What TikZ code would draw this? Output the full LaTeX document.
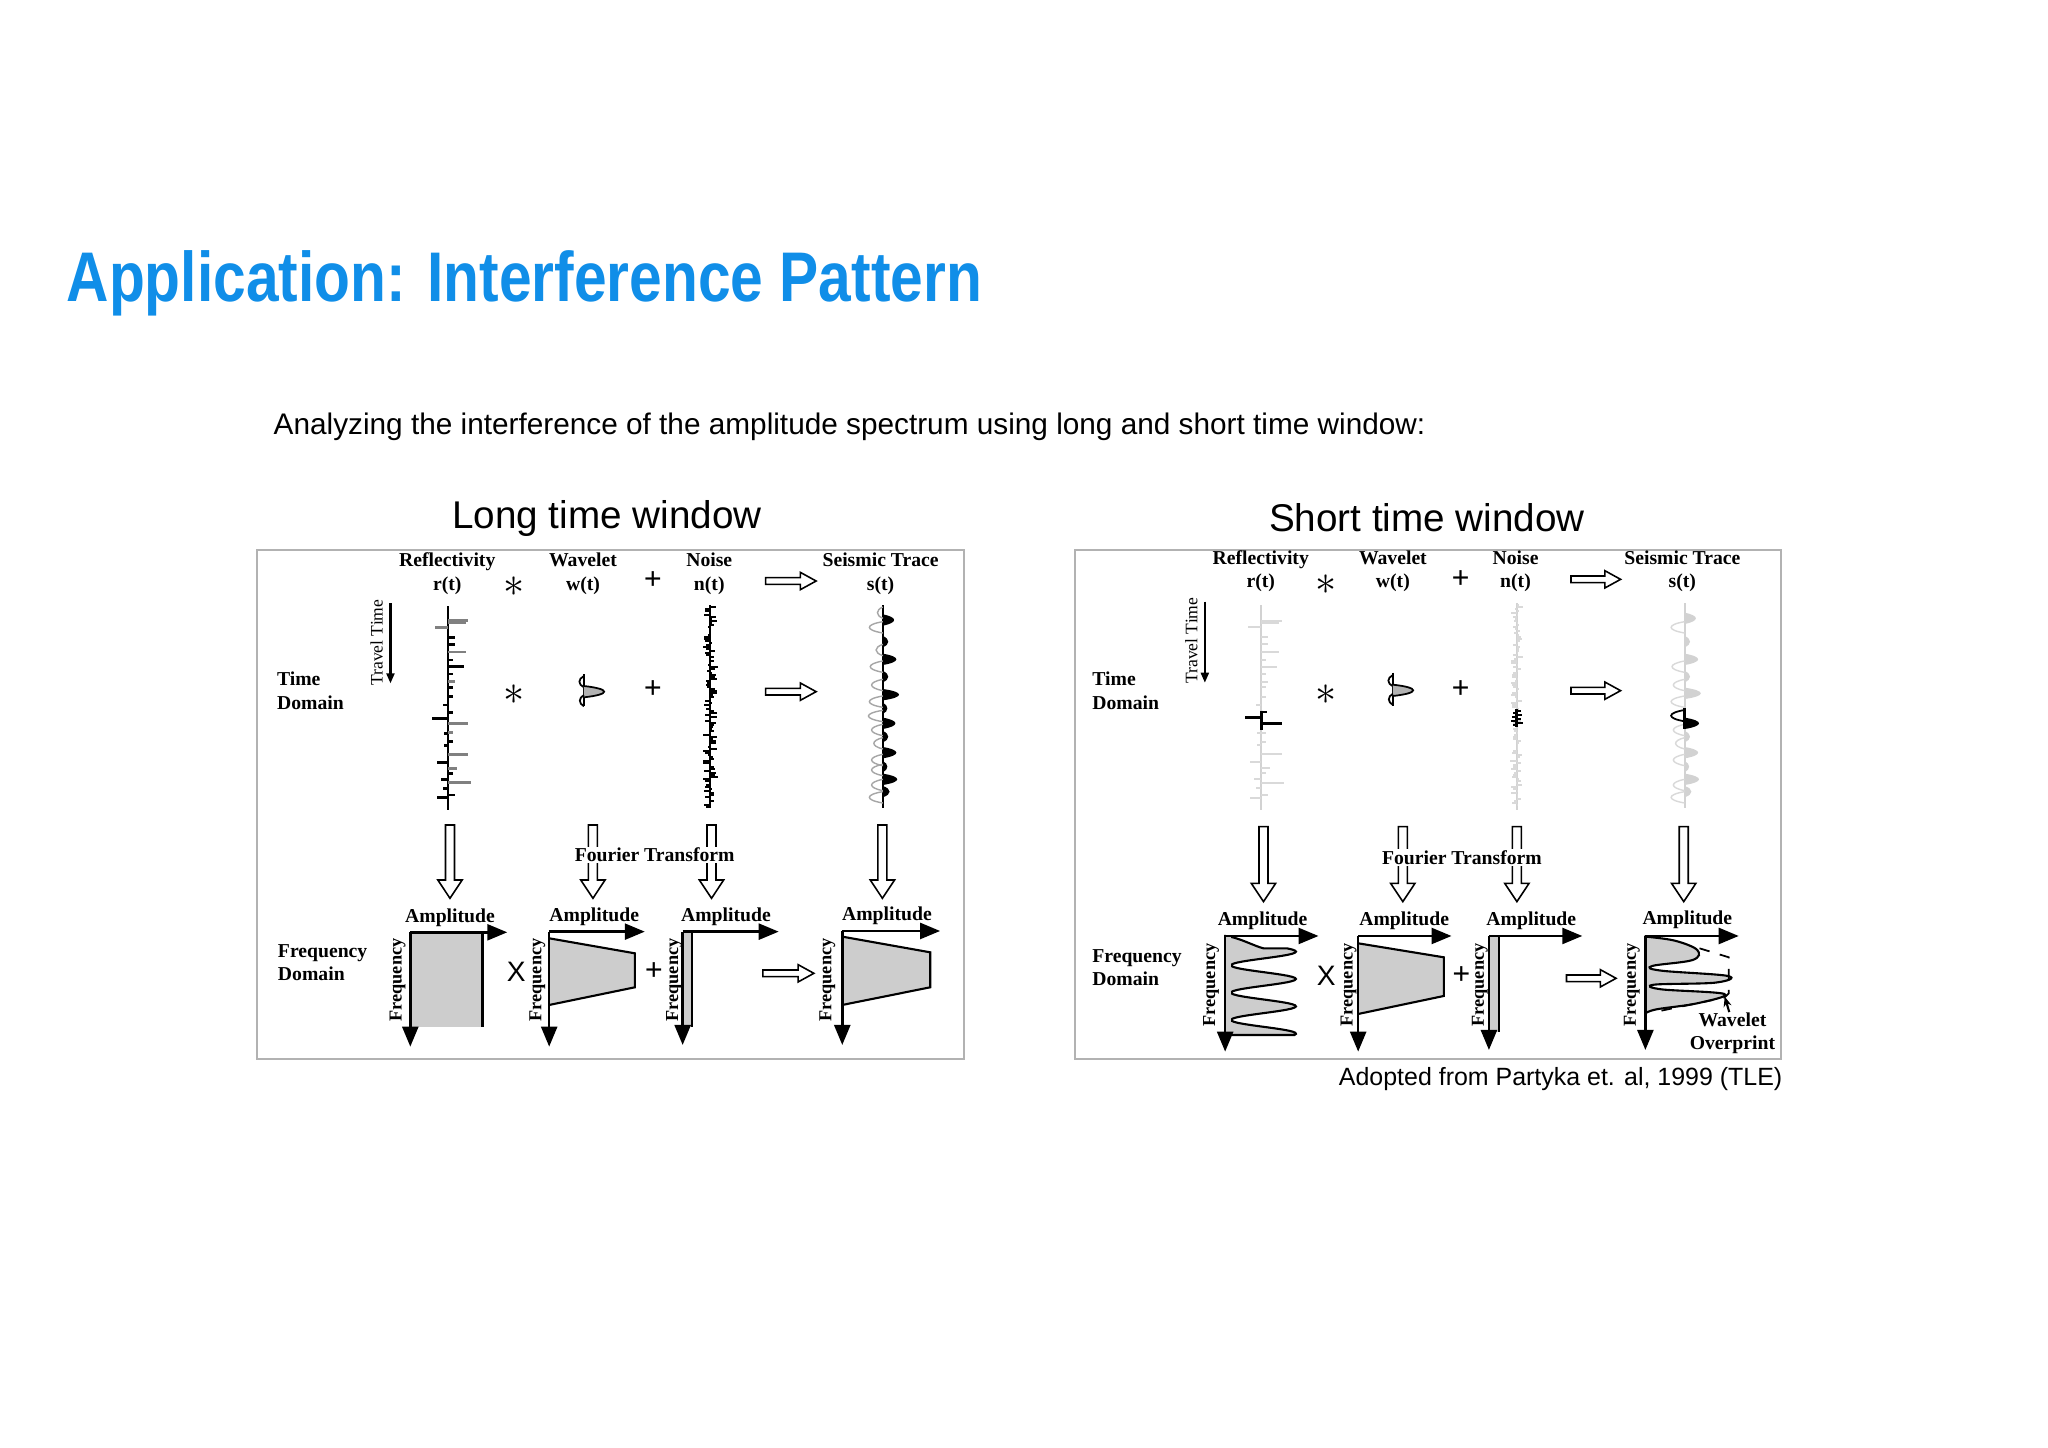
\documentclass[tikz,border=0pt]{standalone}
\usepackage{fontspec}
\setmainfont{Liberation Serif}
\newfontfamily\sansf{Liberation Sans}
\usetikzlibrary{arrows.meta}
\definecolor{titleblue}{RGB}{16,142,232}
\definecolor{specgray}{RGB}{205,205,205}
\tikzset{
 lbl/.style={font=\fontsize{5.6}{6.6}\selectfont\bfseries, align=center, inner sep=0pt},
 sym/.style={font=\fontsize{9}{9}\selectfont\bfseries, inner sep=0pt},
 ast/.style={font=\fontsize{13}{13}\selectfont, inner sep=0pt},
 hollow/.style={draw=black, fill=white, line width=0.45pt},
 axis/.style={line width=0.7pt, -{Triangle[length=2mm,width=1.6mm]}},
 spec/.style={fill=specgray, draw=black, line width=0.6pt},
 rot/.style={font=\fontsize{5.2}{6}\selectfont\bfseries, rotate=90, inner sep=0pt},
}
\newcommand\hArR[3]{\draw[hollow] (#1,#3-10) -- (#2-35,#3-10) -- (#2-35,#3-26) -- (#2,#3) -- (#2-35,#3+26) -- (#2-35,#3+10) -- (#1,#3+10) -- cycle;}
\newcommand\hArD[3]{\draw[hollow] (#1-10,#2) -- (#1-10,#3-55) -- (#1-27,#3-55) -- (#1,#3) -- (#1+27,#3-55) -- (#1+10,#3-55) -- (#1+10,#2) -- cycle;}
\newcommand\lobe[4]{\path[#4] (#1,#2-17) .. controls (#1+1.33*#3,#2-8) and (#1+1.33*#3,#2+8) .. (#1,#2+17);}
\newcommand\reflspikes[2]{% x, color
 \foreach \yy/\ll/\cc in {212/45/gray,218/40/gray,232/-30/gray,262/15/black,283/15/black,306/40/gray,330/10/black,350/35/black,372/10/black,395/15/gray,412/10/black,440/10/black,465/-12/black,487/10/black,505/-35/black,520/45/gray,548/10/gray,550/-10/black,575/10/black,586/-10/black,613/45/gray,637/-25/black,655/20/gray,670/10/black,688/-15/black,698/50/gray,715/-12/black,735/15/black,743/-25/black}
  {\ifx#2\relax\draw[\cc,line width=0.8pt] (#1,\yy) -- ++(\ll,0);\else\draw[#2,line width=0.6pt] (#1,\yy) -- ++(\ll,0);\fi}}
\begin{document}
\begin{tikzpicture}[x=0.1mm,y=-0.1mm]
\useasboundingbox (0,0) rectangle (2048,1447);
\fill[white] (0,0) rectangle (2048,1447);
\node[anchor=west, inner sep=0pt, text=titleblue, font=\sansf\bfseries\fontsize{20}{22}\selectfont] (title) at (66,283) {\scalebox{0.835}[1]{Application: Interference Pattern}};
\node[anchor=west, inner sep=0pt, font=\sansf\fontsize{8.47}{10}\selectfont] (sub) at (273,427) {Analyzing the interference of the amplitude spectrum using long and short time window:};
\node[inner sep=0pt, font=\sansf\fontsize{11}{13}\selectfont] (lt) at (607,518) {Long time window};
\node[inner sep=0pt, font=\sansf\fontsize{11}{13}\selectfont] (st) at (1427,518) {Short time window};
\node[anchor=east, inner sep=0pt, font=\sansf\fontsize{7.1}{8}\selectfont] (src) at (1783,1079) {Adopted from Partyka et. al, 1999 (TLE)};
\draw[gray!60, line width=0.5pt] (257,550) rectangle (964,1059);
\draw[gray!60, line width=0.5pt] (1075,550) rectangle (1781,1059);

% ================= LEFT PANEL =================
\begin{scope}[shift={(257,550)}, xscale=0.4509, yscale=0.3333]
\node[lbl] (a1) at (422,71) {Reflectivity\\r(t)};
\node[lbl] (a2) at (723,71) {Wavelet\\w(t)};
\node[lbl] (a3) at (1003,71) {Noise\\n(t)};
\node[lbl] (a4) at (1383,71) {Seismic Trace\\s(t)};
\node[ast] (s1) at (570,110) {$\ast$};
\node[sym] (s2) at (878,93) {+};
\hArR{1128}{1240}{93}
\node[rot, font=\fontsize{5}{6}\selectfont] (tt) at (265,278) {Travel Time};
\draw[line width=0.6pt,-{Triangle[length=1mm,width=0.8mm]}] (296,160) -- (296,400);
\node[lbl, align=left, anchor=west] (td) at (43,422) {Time\\Domain};
\node[ast] (s3) at (570,435) {$\ast$};
\node[sym] (s4) at (878,418) {+};
\hArR{1128}{1240}{425}
% reflectivity
\draw[line width=0.7pt] (424,168) -- (424,780);
\reflspikes{424}{\relax}
% wavelet
\draw[line width=0.7pt] (725,372) -- (725,468);
\lobe{725}{395}{-10}{draw,line width=0.5pt}
\lobe{725}{425}{45}{fill=gray!60,draw,line width=0.5pt}
\lobe{725}{452}{-9}{draw,line width=0.5pt}
% noise
\pgfmathsetseed{7}
\draw[line width=0.7pt] (1005,165) -- (1005,775);
\foreach \i in {0,...,100}{\pgfmathsetmacro\ll{(rnd-0.5)*34}\draw[line width=0.55pt] (1005,170+6*\i) -- ++(\ll,0);}
% seismic trace
\draw[line width=0.7pt] (1388,165) -- (1388,775);
\foreach \yy/\aa in {210/25,328/30,434/36,520/28,608/30,688/32,275/12,380/12,560/12,725/15,650/10,475/10}{\lobe{1388}{\yy}{\aa}{fill=black}}
\foreach \yy/\aa in {188/-12,232/-30,300/-15,350/-28,405/-25,455/-30,498/-32,540/-25,580/-20,630/-25,660/-25,705/-25,742/-30}{\lobe{1388}{\yy}{\aa}{draw=gray!70,line width=0.4pt}}
% fourier
\hArD{428}{825}{1045}
\hArD{745}{825}{1045}
\hArD{1008}{825}{1045}
\hArD{1387}{825}{1045}
\fill[white] (685,890) rectangle (1080,940);
\node[lbl] (ft) at (882,915) {Fourier Transform};
% frequency domain
\node[lbl, align=left, anchor=west] (fd) at (45,1238) {Frequency\\Domain};
\node[lbl] (m1) at (428,1102) {Amplitude};
\node[lbl] (m2) at (748,1100) {Amplitude};
\node[lbl] (m3) at (1040,1100) {Amplitude};
\node[lbl] (m4) at (1397,1098) {Amplitude};
\fill[specgray] (340,1147) rectangle (500,1432);
\draw[line width=0.6pt] (500,1147) -- (500,1432);
\draw[axis] (340,1147) -- (555,1147);
\draw[axis] (340,1147) -- (340,1490);
\node[rot] (f1) at (312,1290) {Frequency};
\draw[spec] (648,1165) -- (838,1210) -- (838,1312) -- (648,1365);
\draw[axis] (648,1145) -- (860,1145);
\draw[axis] (648,1145) -- (648,1490);
\node[rot] (f2) at (622,1290) {Frequency};
\node[font=\sansf\fontsize{8}{8}\selectfont, inner sep=0pt] (x1) at (575,1265) {X};
\node[sym] (p1) at (880,1265) {+};
\fill[specgray] (944,1145) rectangle (965,1430);
\draw[line width=0.5pt] (965,1145) -- (965,1430);
\draw[axis] (944,1145) -- (1157,1145);
\draw[axis] (944,1145) -- (944,1485);
\node[rot] (f3) at (925,1290) {Frequency};
\hArR{1122}{1235}{1270}
\draw[spec] (1298,1160) -- (1493,1207) -- (1493,1312) -- (1298,1365);
\draw[axis] (1298,1143) -- (1515,1143);
\draw[axis] (1298,1143) -- (1298,1485);
\node[rot] (f4) at (1265,1290) {Frequency};
\end{scope}

% ================= RIGHT PANEL =================
\begin{scope}[shift={(1075,550)}, xscale=0.4509, yscale=0.3333]
\node[lbl] (b1) at (412,64) {Reflectivity\\r(t)};
\node[lbl] (b2) at (705,64) {Wavelet\\w(t)};
\node[lbl] (b3) at (977,64) {Noise\\n(t)};
\node[lbl] (b4) at (1347,64) {Seismic Trace\\s(t)};
\node[ast] (t1) at (557,105) {$\ast$};
\node[sym] (t2) at (855,88) {+};
\hArR{1100}{1210}{88}
\node[rot, font=\fontsize{5}{6}\selectfont] (tt2) at (258,272) {Travel Time};
\draw[line width=0.6pt,-{Triangle[length=1mm,width=0.8mm]}] (288,155) -- (288,398);
\node[lbl, align=left, anchor=west] (td2) at (37,422) {Time\\Domain};
\node[ast] (t3) at (557,435) {$\ast$};
\node[sym] (t4) at (855,418) {+};
\hArR{1100}{1210}{422}
% reflectivity faint
\draw[gray!35, line width=0.6pt] (413,165) -- (413,780);
\reflspikes{413}{gray!30}
\draw[line width=0.8pt] (413,482) -- (413,540);
\draw[line width=0.8pt] (413,502) -- ++(-35,0);
\draw[line width=0.8pt] (413,520) -- ++(45,0);
\draw[line width=0.6pt] (413,487) -- ++(12,0);
% wavelet
\draw[line width=0.7pt] (705,368) -- (705,468);
\lobe{705}{392}{-10}{draw,line width=0.5pt}
\lobe{705}{421}{45}{fill=gray!60,draw,line width=0.5pt}
\lobe{705}{448}{-9}{draw,line width=0.5pt}
% noise faint
\pgfmathsetseed{11}
\draw[gray!35, line width=0.6pt] (980,160) -- (980,780);
\foreach \i in {0,...,100}{\pgfmathsetmacro\ll{(rnd-0.5)*30}\draw[gray!30,line width=0.5pt] (980,165+6*\i) -- ++(\ll,0);}
\draw[line width=0.8pt] (980,478) -- (980,532);
\foreach \yy/\ll in {484/10,490/-8,496/12,502/-10,508/8,514/-12,520/14,526/-8}{\draw[line width=0.6pt] (980,\yy) -- ++(\ll,0);}
% seismic trace faint
\draw[gray!35, line width=0.6pt] (1352,160) -- (1352,775);
\foreach \yy/\aa in {205/25,328/30,430/36,608/30,688/32,275/12,380/12,560/12,725/15,650/10}{\lobe{1352}{\yy}{\aa}{fill=gray!35}}
\foreach \yy/\aa in {232/-30,350/-28,405/-25,455/-30,540/-25,580/-20,630/-25,705/-25,742/-30}{\lobe{1352}{\yy}{\aa}{draw=gray!30,line width=0.4pt}}
\draw[line width=0.8pt] (1352,475) -- (1352,538);
\lobe{1352}{497}{-30}{draw,line width=0.5pt}
\lobe{1352}{520}{32}{fill=black}
% fourier
\hArD{418}{830}{1055}
\hArD{727}{830}{1055}
\hArD{980}{830}{1055}
\hArD{1350}{830}{1055}
\fill[white] (665,897) rectangle (1055,947);
\node[lbl] (ft2) at (858,922) {Fourier Transform};
% frequency domain
\node[lbl, align=left, anchor=west] (fd2) at (37,1253) {Frequency\\Domain};
\node[lbl] (n1) at (416,1112) {Amplitude};
\node[lbl] (n2) at (730,1112) {Amplitude};
\node[lbl] (n3) at (1012,1112) {Amplitude};
\node[lbl] (n4) at (1358,1110) {Amplitude};
% p1 oscillating
\path[spec] (333,1158) .. controls (360,1160) and (400,1190) .. (418,1195)
  -- plot[domain=1195:1455, samples=80, variable=\t] ({418+72*cos(4.3902*(\t-1205))}, \t)
  -- (333,1455) -- cycle;
\fill[specgray] (333,1158) rectangle (345,1455);
\draw[axis] (333,1158) -- (540,1158);
\draw[axis] (333,1158) -- (333,1505);
\node[rot] (g1) at (302,1305) {Frequency};
\draw[spec] (628,1180) -- (818,1222) -- (818,1338) -- (628,1392);
\draw[axis] (628,1158) -- (835,1158);
\draw[axis] (628,1158) -- (628,1505);
\node[rot] (g2) at (607,1305) {Frequency};
\node[font=\sansf\fontsize{8}{8}\selectfont, inner sep=0pt] (x2) at (557,1278) {X};
\node[sym] (q1) at (857,1278) {+};
\fill[specgray] (918,1158) rectangle (940,1445);
\draw[line width=0.5pt] (940,1158) -- (940,1445);
\draw[axis] (918,1158) -- (1125,1158);
\draw[axis] (918,1158) -- (918,1500);
\node[rot] (g3) at (898,1305) {Frequency};
\hArR{1090}{1200}{1285}
% p4
\path[spec] plot[smooth, tension=0.6] coordinates {(1265,1160) (1330,1172) (1380,1200) (1370,1230) (1280,1248) (1300,1262) (1448,1278) (1420,1298) (1285,1304) (1300,1318) (1440,1332) (1380,1360) (1290,1378) (1265,1390)} -- cycle;
\draw[dashed, line width=0.5pt] (1385,1195) -- (1450,1222) -- (1450,1330) -- (1440,1343) -- (1290,1385);
\draw[axis] (1265,1158) -- (1472,1158);
\draw[axis] (1265,1158) -- (1265,1500);
\node[rot] (g4) at (1235,1305) {Frequency};
\node[lbl] (wo) at (1458,1450) {Wavelet\\Overprint};
\coordinate (wp) at (1441,1340);
\draw[line width=0.6pt,-{Stealth[length=1mm,width=0.8mm]}] ([xshift=-2pt]wo.north) -- (wp);
\end{scope}
\end{tikzpicture}
\end{document}
